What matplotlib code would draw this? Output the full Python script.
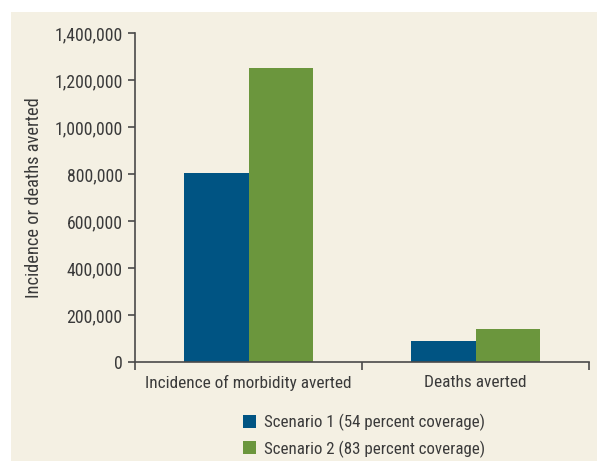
import matplotlib
matplotlib.use("Agg")
import matplotlib.pyplot as plt
from matplotlib.patches import Rectangle
from matplotlib.ticker import FuncFormatter
import numpy as np

categories = ["Incidence of morbidity averted", "Deaths averted"]
series_names = ["Scenario 1 (54 percent coverage)", "Scenario 2 (83 percent coverage)"]
scenario1 = [805000, 90000]
scenario2 = [1250000, 140000]
colors = ["#005483", "#6b963d"]
bg = "#f4f0e3"
text_color = "#3a3a3a"

plt.rcParams["font.family"] = ["Roboto Condensed", "DejaVu Sans"]

W, H = 597, 461
fig = plt.figure(figsize=(W / 100, H / 100), dpi=100)
fig.patch.set_facecolor("white")
fig.patches.append(Rectangle((11 / W, 0), 1 - 11 / W, 1 - 12 / H,
                             transform=fig.transFigure, facecolor=bg,
                             edgecolor="none", zorder=-10))

ax = fig.add_axes([135 / W, 1 - 362 / H, (589 - 135) / W, (362 - 33) / H])
ax.set_facecolor("none")

x = np.arange(len(categories))
bw = 0.286
ax.bar(x - bw / 2, scenario1, bw, color=colors[0], label=series_names[0], zorder=2)
ax.bar(x + bw / 2, scenario2, bw, color=colors[1], label=series_names[1], zorder=2)

ax.set_xlim(-0.5, 1.5)
ax.set_ylim(0, 1400000)
ax.set_yticks(np.arange(0, 1400001, 200000))
ax.yaxis.set_major_formatter(FuncFormatter(lambda v, p: f"{int(v):,}"))

ax.set_xticks([-0.5, 0.5, 1.5])
ax.set_xticklabels([])
ax.set_xticks(x, minor=True)
ax.set_xticklabels(categories, minor=True)
ax.tick_params(axis="x", which="major", length=6, width=1.2, color="#4a4a4a", direction="out")
ax.tick_params(axis="x", which="minor", length=0, pad=9, labelsize=12.4, labelcolor=text_color)
ax.tick_params(axis="y", length=5, width=1.2, color="#4a4a4a", labelsize=12.8,
               labelcolor=text_color, pad=4)

for s in ["top", "right"]:
    ax.spines[s].set_visible(False)
for s in ["left", "bottom"]:
    ax.spines[s].set_color("#4a4a4a")
    ax.spines[s].set_linewidth(1.2)

ax.set_ylabel("Incidence or deaths averted", fontsize=13.2, color=text_color)
ax.yaxis.set_label_coords(-(135 - 43) / (589 - 135), 0.5)

leg = fig.legend(loc="upper left", bbox_to_anchor=(236 / W, 1 - 407 / H),
                 frameon=False, fontsize=12.2, handlelength=0.8, handleheight=0.8,
                 handletextpad=0.45, labelspacing=0.55, borderaxespad=0)
for t in leg.get_texts():
    t.set_color(text_color)

fig.savefig("out.png", dpi=100, facecolor=fig.get_facecolor())
